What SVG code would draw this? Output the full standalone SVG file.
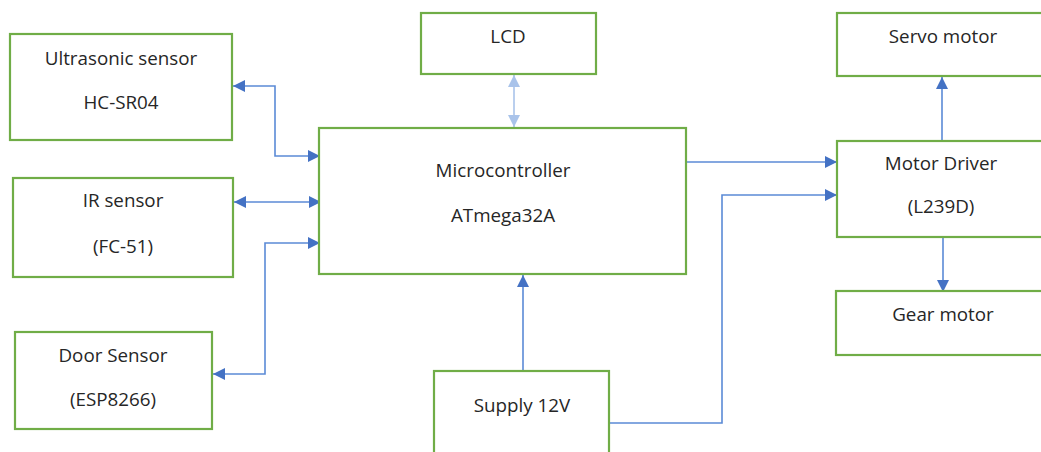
<svg xmlns="http://www.w3.org/2000/svg" width="1041" height="452" viewBox="0 0 1041 452">
<style>
.box{fill:#fff;stroke:#70ad47;stroke-width:2.2}
.t{font-family:"Open Sans","Liberation Sans",sans-serif;font-size:18.8px;fill:#262626;text-anchor:middle}
.c{fill:none;stroke:#5b8ad6;stroke-width:1.6}
.cl{fill:none;stroke:#a9c3ea;stroke-width:1.6}
</style>
<defs>
<marker id="ah" markerUnits="userSpaceOnUse" markerWidth="12" markerHeight="12" refX="10" refY="5" orient="auto-start-reverse" viewBox="0 0 10 10"><path d="M0,0 L10,5 L0,10 z" fill="#4472c4"/></marker>
<marker id="ahl" markerUnits="userSpaceOnUse" markerWidth="12" markerHeight="12" refX="10" refY="5" orient="auto-start-reverse" viewBox="0 0 10 10"><path d="M0,0 L10,5 L0,10 z" fill="#a9c3ea"/></marker>
</defs>
<rect width="1041" height="452" fill="#fff"/>
<g id="connectors">
<path class="c" d="M233,86 H275 V156 H320" marker-start="url(#ah)" marker-end="url(#ah)"/>
<path class="c" d="M234,202 H321" marker-start="url(#ah)" marker-end="url(#ah)"/>
<path class="c" d="M213,374 H265 V243 H320" marker-start="url(#ah)" marker-end="url(#ah)"/>
<path class="cl" d="M514,75 V127" marker-start="url(#ahl)" marker-end="url(#ahl)"/>
<path class="c" d="M687,162 H837" marker-end="url(#ah)"/>
<path class="c" d="M606,423 H722 V195 H837" marker-end="url(#ah)"/>
<path class="c" d="M523,370 V275" marker-end="url(#ah)"/>
<path class="c" d="M942,140 V77" marker-end="url(#ah)"/>
<path class="c" d="M943,237 V292" marker-end="url(#ah)"/>
</g>
<g id="ultrasonic"><rect class="box" x="10" y="34" width="222" height="106"/><text class="t" x="121" y="65">Ultrasonic sensor</text><text class="t" x="121" y="109">HC-SR04</text></g>
<g id="ir"><rect class="box" x="13" y="178" width="220" height="99"/><text class="t" x="123" y="207">IR sensor</text><text class="t" x="123" y="253">(FC-51)</text></g>
<g id="door"><rect class="box" x="15" y="332" width="197" height="97"/><text class="t" x="113" y="362">Door Sensor</text><text class="t" x="113" y="406">(ESP8266)</text></g>
<g id="lcd"><rect class="box" x="421" y="13" width="175" height="61"/><text class="t" x="508" y="43">LCD</text></g>
<g id="micro"><rect class="box" x="319" y="128" width="367" height="146"/><text class="t" x="503" y="177">Microcontroller</text><text class="t" x="503" y="222">ATmega32A</text></g>
<g id="supply"><rect class="box" x="434" y="371" width="175" height="90"/><text class="t" x="522" y="412">Supply 12V</text></g>
<g id="servo"><rect class="box" x="837" y="13" width="210" height="63"/><text class="t" x="943" y="43">Servo motor</text></g>
<g id="driver"><rect class="box" x="837" y="141" width="210" height="96"/><text class="t" x="941" y="170">Motor Driver</text><text class="t" x="941" y="213">(L239D)</text></g>
<g id="gear"><rect class="box" x="836" y="291" width="210" height="64"/><text class="t" x="943" y="321">Gear motor</text></g>
</svg>
